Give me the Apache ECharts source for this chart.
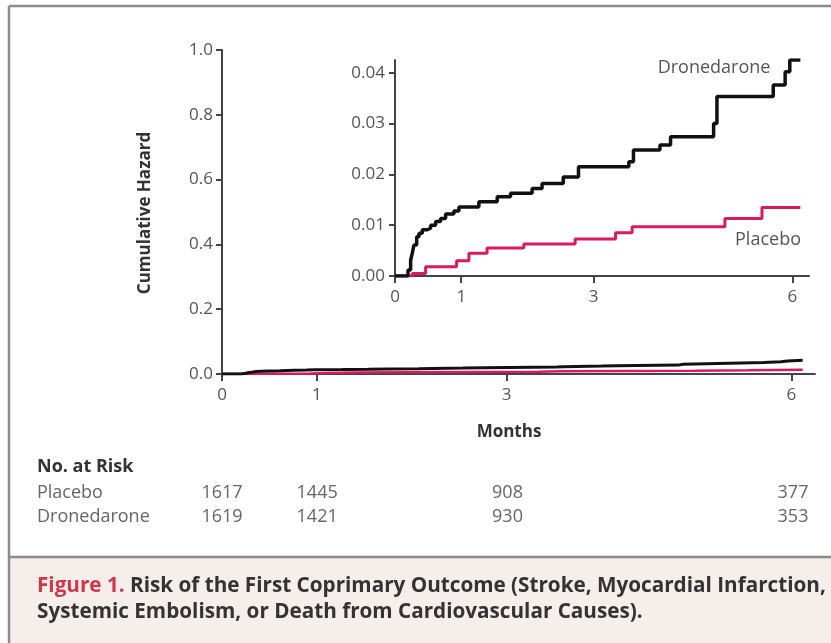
<!DOCTYPE html>
<html>
<head>
<meta charset="utf-8">
<script src="https://cdn.jsdelivr.net/npm/echarts@6/dist/echarts.min.js"></script>
<style>
html,body{margin:0;padding:0;background:#fff;}
#c{width:831px;height:643px;}
</style>
</head>
<body>
<div id="c"></div>
<script>
// ---- Data ----
const dronMonths = [0, 0.16, 0.196, 0.236, 0.261, 0.286, 0.327, 0.362, 0.412, 0.487, 0.538, 0.613, 0.688, 0.764, 0.889, 0.965, 1.266, 1.543, 1.744, 2.07, 2.22, 2.54, 2.77, 3.53, 3.60, 4.0, 4.16, 4.81, 4.86, 5.71, 5.89, 5.96, 6.12];
const dronHazard = [0, 0, 0.0012, 0.0031, 0.0045, 0.0061, 0.0077, 0.0084, 0.0091, 0.0094, 0.0100, 0.0107, 0.0113, 0.0122, 0.0128, 0.0136, 0.0146, 0.0156, 0.0163, 0.0172, 0.0182, 0.0195, 0.0215, 0.0225, 0.0248, 0.0258, 0.0274, 0.0300, 0.0353, 0.0376, 0.0402, 0.0425, 0.0425];
const placMonths = [0, 0.196, 0.261, 0.462, 0.93, 1.116, 1.39, 1.945, 2.72, 3.33, 3.58, 4.98, 5.54, 6.12];
const placHazard = [0, 0, 0.0005, 0.0018, 0.0030, 0.0045, 0.0055, 0.0063, 0.0073, 0.0085, 0.0097, 0.0113, 0.0135, 0.0135];

const xTicks = [0, 1, 3, 6];
const mainYTicks = [0, 0.2, 0.4, 0.6, 0.8, 1.0];
const insetYTicks = [0, 0.01, 0.02, 0.03, 0.04];

const riskGroups = ['Placebo', 'Dronedarone'];
const riskMonths = [0, 1, 3, 6];
const riskPlacebo = [1617, 1445, 908, 377];
const riskDronedarone = [1619, 1421, 930, 353];

const captionLabel = 'Figure 1.';
const captionLine1 = ' Risk of the First Coprimary Outcome (Stroke, Myocardial Infarction,';
const captionLine2 = 'Systemic Embolism, or Death from Cardiovascular Causes).';

// ---- Styles ----
const BLACK = '#111';
const PINK = '#d81b60';
const AXIS = '#444';
const LABEL = '#555';
const FONT = '"Open Sans", Lato, sans-serif';

const pairs = (xs, ys) => xs.map((x, i) => [x, ys[i]]);

const chart = echarts.init(document.getElementById('c'), null, {renderer: 'canvas'});

const xAxisCommon = (gi) => ({
  type: 'value', gridIndex: gi, min: 0, max: 6.25,
  axisLine: {show: true, onZero: false, lineStyle: {color: AXIS, width: 2}},
  axisTick: {show: true, customValues: xTicks, length: 7, lineStyle: {color: AXIS, width: 2}},
  axisLabel: {customValues: xTicks, fontSize: 17, color: LABEL, fontFamily: FONT, margin: 13},
  splitLine: {show: false}
});

const grid0 = {left: 222, right: 16, top: 50, bottom: 269};
const x0 = 222, x6 = 793; // approx pixel of month 0 and month 6 in main grid (for table column centres)

const graphics = [];
// frame lines and caption band
graphics.push({type: 'rect', shape: {x: 9, y: 557, width: 822, height: 86}, style: {fill: '#f5eeea'}, silent: true, z: 0});
graphics.push({type: 'line', shape: {x1: 9, y1: 6, x2: 831, y2: 6}, style: {stroke: '#8c8c8c', lineWidth: 2.5}});
graphics.push({type: 'line', shape: {x1: 9, y1: 6, x2: 9, y2: 643}, style: {stroke: '#8c8c8c', lineWidth: 2.5}});
graphics.push({type: 'line', shape: {x1: 9, y1: 557, x2: 831, y2: 557}, style: {stroke: '#8c8c8c', lineWidth: 2.5}});
// axis titles
graphics.push({type: 'text', x: 145, y: 213, rotation: Math.PI / 2, style: {text: 'Cumulative Hazard', font: 'bold 17px ' + FONT, fill: '#333', textAlign: 'center', textVerticalAlign: 'middle'}});
graphics.push({type: 'text', x: 509, y: 432, style: {text: 'Months', font: 'bold 17px ' + FONT, fill: '#333', textAlign: 'center', textVerticalAlign: 'middle'}});
// inset series labels
graphics.push({type: 'text', x: 714, y: 68, style: {text: 'Dronedarone', font: '18px ' + FONT, fill: '#555', textAlign: 'center', textVerticalAlign: 'middle'}});
graphics.push({type: 'text', x: 768, y: 240, style: {text: 'Placebo', font: '18px ' + FONT, fill: '#555', textAlign: 'center', textVerticalAlign: 'middle'}});
// risk table
graphics.push({type: 'text', x: 37, y: 467, style: {text: 'No. at Risk', font: 'bold 18px ' + FONT, fill: '#333', textAlign: 'left', textVerticalAlign: 'middle'}});
const riskRows = [riskPlacebo, riskDronedarone];
riskGroups.forEach((g, r) => {
  const y = 493 + r * 24;
  graphics.push({type: 'text', x: 37, y: y, style: {text: g, font: '18px ' + FONT, fill: '#666', textAlign: 'left', textVerticalAlign: 'middle'}});
  riskMonths.forEach((m, j) => {
    graphics.push({type: 'text', x: x0 + m * (x6 - x0) / 6, y: y, style: {text: String(riskRows[r][j]), font: '18px ' + FONT, fill: '#666', textAlign: 'center', textVerticalAlign: 'middle'}});
  });
});
// caption
graphics.push({type: 'text', x: 37, y: 586, style: {
  text: '{r|' + captionLabel + '}{k|' + captionLine1 + '}',
  textVerticalAlign: 'middle',
  rich: {r: {font: 'bold 20.7px ' + FONT, fill: '#d1374a'}, k: {font: 'bold 20.7px ' + FONT, fill: '#333'}}
}});
graphics.push({type: 'text', x: 37, y: 612, style: {text: captionLine2, font: 'bold 20.7px ' + FONT, fill: '#333', textVerticalAlign: 'middle'}});

chart.setOption({
  animation: false,
  backgroundColor: '#fff',
  grid: [
    grid0,
    {left: 395, right: 22, top: 60, bottom: 367}
  ],
  xAxis: [xAxisCommon(0), xAxisCommon(1)],
  yAxis: [
    {
      type: 'value', gridIndex: 0, min: 0, max: 1, interval: 0.2,
      axisLine: {show: true, lineStyle: {color: AXIS, width: 2}},
      axisTick: {show: true, length: 6, lineStyle: {color: AXIS, width: 2}},
      axisLabel: {fontSize: 17, color: LABEL, fontFamily: FONT, margin: 9, formatter: v => v.toFixed(1)},
      splitLine: {show: false}
    },
    {
      type: 'value', gridIndex: 1, min: 0, max: 0.0425,
      axisLine: {show: true, lineStyle: {color: AXIS, width: 2}},
      axisTick: {show: true, length: 6, customValues: insetYTicks, lineStyle: {color: AXIS, width: 2}},
      axisLabel: {customValues: insetYTicks, fontSize: 17, color: LABEL, fontFamily: FONT, margin: 10, formatter: v => v.toFixed(2)},
      splitLine: {show: false}
    }
  ],
  series: [
    {type: 'line', xAxisIndex: 0, yAxisIndex: 0, step: 'end', symbol: 'none', data: pairs(placMonths, placHazard), lineStyle: {color: PINK, width: 2.5}, z: 3},
    {type: 'line', xAxisIndex: 0, yAxisIndex: 0, step: 'end', symbol: 'none', data: pairs(dronMonths, dronHazard), lineStyle: {color: BLACK, width: 3}, z: 4},
    {type: 'line', xAxisIndex: 1, yAxisIndex: 1, step: 'end', symbol: 'none', data: pairs(placMonths, placHazard), lineStyle: {color: PINK, width: 3}, z: 3},
    {type: 'line', xAxisIndex: 1, yAxisIndex: 1, step: 'end', symbol: 'none', data: pairs(dronMonths, dronHazard), lineStyle: {color: BLACK, width: 3.5}, z: 4}
  ],
  graphic: graphics
});
</script>
</body>
</html>
